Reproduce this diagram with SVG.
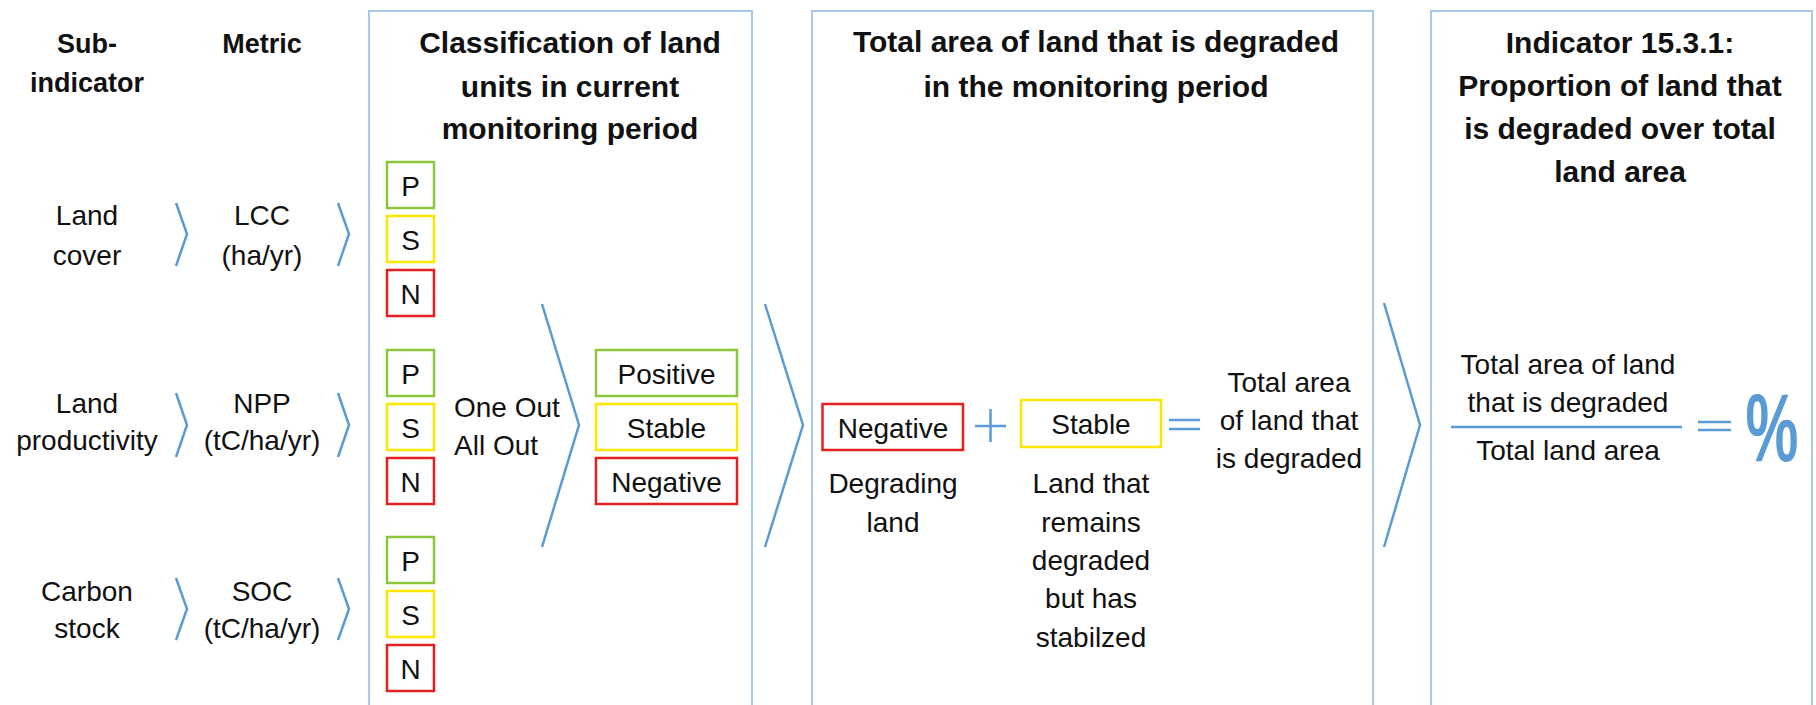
<svg xmlns="http://www.w3.org/2000/svg" width="1816" height="705" viewBox="0 0 1816 705">
<style>
text{font-family:"Liberation Sans",Arial,sans-serif;fill:#111;}
.h{font-weight:bold;font-size:27px;text-anchor:middle;}
.t{font-weight:bold;font-size:30px;text-anchor:middle;}
.r{font-size:28px;text-anchor:middle;}
.rl{font-size:28px;text-anchor:start;}
.panel{fill:none;stroke:#a8c8ea;stroke-width:2;}
.chev{fill:none;stroke:#5b9bd5;stroke-width:2.5;stroke-linejoin:miter;}
.op{fill:none;stroke:#5b9bd5;stroke-width:2.5;}
.g{fill:#fff;stroke:#8cc63e;stroke-width:2.5;}
.y{fill:#fff;stroke:#ffe600;stroke-width:2.5;}
.rd{fill:#fff;stroke:#e3201f;stroke-width:2.5;}
</style>
<g id="panels">
<rect class="panel" x="369" y="11" width="383" height="720"/>
<rect class="panel" x="812" y="11" width="561" height="720"/>
<rect class="panel" x="1431" y="11" width="381" height="720"/>
</g>
<g id="headers">
<text class="h" x="87" y="53">Sub-</text>
<text class="h" x="87" y="92">indicator</text>
<text class="h" x="262" y="53">Metric</text>
<text class="t" x="570" y="53">Classification of land</text>
<text class="t" x="570" y="97">units in current</text>
<text class="t" x="570" y="139">monitoring period</text>
<text class="t" x="1096" y="52">Total area of land that is degraded</text>
<text class="t" x="1096" y="97">in the monitoring period</text>
<text class="t" x="1620" y="53">Indicator 15.3.1:</text>
<text class="t" x="1620" y="96">Proportion of land that</text>
<text class="t" x="1620" y="139">is degraded over total</text>
<text class="t" x="1620" y="182">land area</text>
</g>
<g id="subindicators">
<g id="land-cover"><text class="r" x="87" y="225">Land</text><text class="r" x="87" y="265">cover</text></g>
<g id="land-productivity"><text class="r" x="87" y="413">Land</text><text class="r" x="87" y="450">productivity</text></g>
<g id="carbon-stock"><text class="r" x="87" y="601">Carbon</text><text class="r" x="87" y="638">stock</text></g>
</g>
<g id="metrics">
<g id="lcc"><text class="r" x="262" y="225">LCC</text><text class="r" x="262" y="265">(ha/yr)</text></g>
<g id="npp"><text class="r" x="262" y="413">NPP</text><text class="r" x="262" y="450">(tC/ha/yr)</text></g>
<g id="soc"><text class="r" x="262" y="601">SOC</text><text class="r" x="262" y="638">(tC/ha/yr)</text></g>
</g>
<g id="psn-1">
<rect class="g" x="387" y="162" width="47" height="46"/><text class="r" x="410.5" y="196">P</text>
<rect class="y" x="387" y="216" width="47" height="46"/><text class="r" x="410.5" y="250">S</text>
<rect class="rd" x="387" y="270" width="47" height="46"/><text class="r" x="410.5" y="304">N</text>
</g>
<g id="psn-2">
<rect class="g" x="387" y="350" width="47" height="46"/><text class="r" x="410.5" y="384">P</text>
<rect class="y" x="387" y="404" width="47" height="46"/><text class="r" x="410.5" y="438">S</text>
<rect class="rd" x="387" y="458" width="47" height="46"/><text class="r" x="410.5" y="492">N</text>
</g>
<g id="psn-3">
<rect class="g" x="387" y="537" width="47" height="46"/><text class="r" x="410.5" y="571">P</text>
<rect class="y" x="387" y="591" width="47" height="46"/><text class="r" x="410.5" y="625">S</text>
<rect class="rd" x="387" y="645" width="47" height="46"/><text class="r" x="410.5" y="679">N</text>
</g>
<g id="ooao"><text class="rl" x="454" y="417">One Out</text><text class="rl" x="454" y="455">All Out</text></g>
<g id="classes">
<rect class="g" x="596" y="350" width="141" height="46"/><text class="r" x="666.5" y="384">Positive</text>
<rect class="y" x="596" y="404" width="141" height="46"/><text class="r" x="666.5" y="438">Stable</text>
<rect class="rd" x="596" y="458" width="141" height="46"/><text class="r" x="666.5" y="492">Negative</text>
</g>
<g id="degrading">
<rect class="rd" x="822.5" y="404" width="140.5" height="46"/><text class="r" x="893" y="438">Negative</text>
<text class="r" x="893" y="493">Degrading</text><text class="r" x="893" y="532">land</text>
</g>
<g id="stable-degraded">
<rect class="y" x="1021" y="400" width="140" height="47"/><text class="r" x="1091" y="434">Stable</text>
<text class="r" x="1091" y="493">Land that</text><text class="r" x="1091" y="532">remains</text><text class="r" x="1091" y="570">degraded</text><text class="r" x="1091" y="608">but has</text><text class="r" x="1091" y="647">stabilzed</text>
</g>
<g id="total-degraded">
<text class="r" x="1289" y="392">Total area</text><text class="r" x="1289" y="430">of land that</text><text class="r" x="1289" y="468">is degraded</text>
</g>
<g id="indicator">
<text class="r" x="1568" y="374">Total area of land</text>
<text class="r" x="1568" y="412">that is degraded</text>
<text class="r" x="1568" y="460">Total land area</text>
<text transform="translate(1772,461) scale(0.62,1)" style="font-weight:bold;font-size:96px;fill:#5b9bd5;text-anchor:middle">%</text>
</g>
<g id="connectors">
<polyline class="chev" points="176,203 187,234 176,266"/>
<polyline class="chev" points="176,393 187,425 176,457"/>
<polyline class="chev" points="176,578 187,609 176,640"/>
<polyline class="chev" points="338,203 349,234 338,266"/>
<polyline class="chev" points="338,393 349,425 338,457"/>
<polyline class="chev" points="338,578 349,609 338,640"/>
<polyline class="chev" points="542,304 579,425 542,547"/>
<polyline class="chev" points="765,304 803,425 765,547"/>
<polyline class="chev" points="1384,303 1420,425 1384,547"/>
<path class="op" d="M975,426 H1006 M990.5,409 V442"/>
<path class="op" d="M1169,420 H1200 M1169,429 H1200"/>
<path class="op" d="M1451,427 H1682"/>
<path class="op" d="M1698,422 H1731 M1698,430 H1731"/>
</g>
</svg>
